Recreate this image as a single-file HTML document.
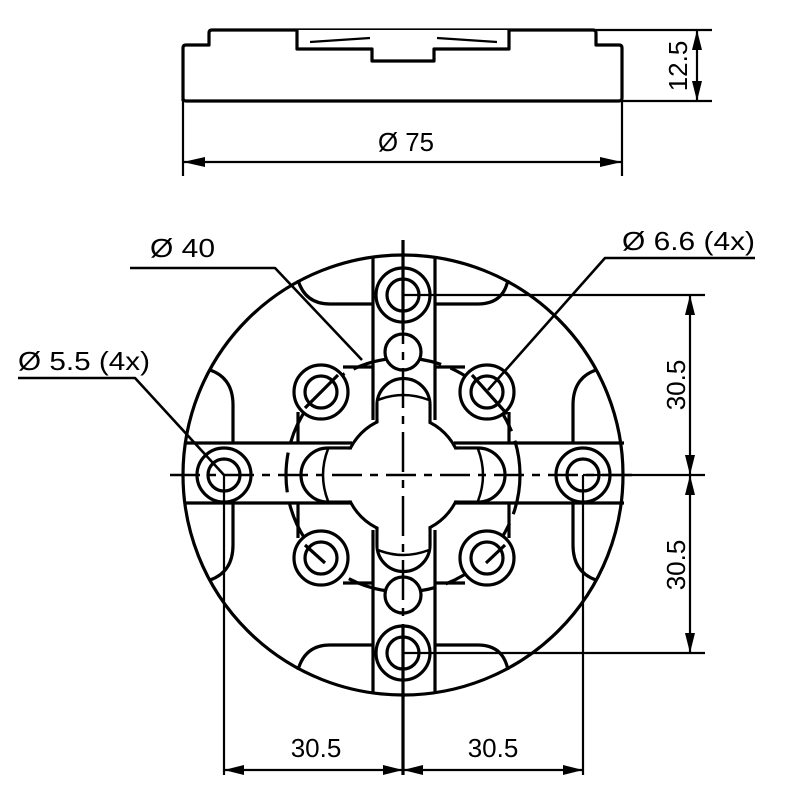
<!DOCTYPE html>
<html><head><style>html,body{margin:0;padding:0;background:#fff}svg{display:block}</style></head>
<body>
<svg width="801" height="800" viewBox="0 0 801 800" xmlns="http://www.w3.org/2000/svg" font-family="Liberation Sans, sans-serif">
<g fill="none" stroke="#000" stroke-width="3.2" stroke-linejoin="round">
<!-- side view -->
<path d="M183,101 L183,48 Q183,45 186,45 L209,45 L209,33 Q209,30 212,30 L593,30 Q596,30 596,33 L596,45 L619,45 Q622,45 622,48 L622,98 Q622,101 619,101 L186,101 Q183,101 183,98"/>
<path d="M297,30 L297,49 L372,49 L372,61 L434,61 L434,49 L509,49 L509,30" fill="#fff"/>
<path d="M310,42 L370,38 M437,38 L497,42" stroke-width="2.2"/>
<!-- 12.5 dim -->
<path d="M596,30 L712,30 M622,101 L712,101 M697,30 L697,101" stroke-width="2.2"/>
<path d="M697,30 L692,50 L702,50Z M697,101 L692,81 L702,81Z" fill="#000" stroke="none"/>
<!-- 75 dim -->
<path d="M183,101 L183,176 M622,101 L622,176 M183,162 L622,162" stroke-width="2.2"/>
<path d="M183,162 L205,157 L205,167Z M622,162 L600,157 L600,167Z" fill="#000" stroke="none"/>

<!-- main circle -->
<circle cx="403" cy="475" r="220"/>
<path d="M373,257 L373,420 M435,257 L435,420 M373,530 L373,693 M435,530 L435,693"/>
<path d="M184,443 L352,443 M454,443 L624,443 M184,503 L352,503 M454,503 L624,503"/>
<path d="M298,280 Q305,304 330,304 L373,304 M435,304 L478,304 Q503,304 508,280"/>
<path d="M298,670 Q305,645 330,645 L373,645 M435,645 L478,645 Q503,645 508,670"/>
<path d="M210,370 Q233,378 233,405 L233,443 M233,503 L233,545 Q233,572 210,580"/>
<path d="M596,370 Q573,378 573,405 L573,443 M573,503 L573,545 Q573,572 596,580"/>
<path d="M343,367 L373,367 M298,412 L298,443 M435,367 L465,367 M509,412 L509,443"/>
<path d="M343,583 L373,583 M298,503 L298,538 M435,583 L465,583 M509,503 L509,538"/>
<circle cx="403" cy="475" r="117" stroke-dasharray="40 10"/>
<g>
<circle cx="403" cy="475" r="59"/>
<path d="M377,422 L377,405 A26,26 0 0 1 430,405 L430,422"/>
<path d="M377,528 L377,545 A26,26 0 0 0 430,545 L430,528"/>
<path d="M352,448 L328,448 A27,27 0 0 0 328,502 L352,502"/>
<path d="M454,448 L478,448 A27,27 0 0 1 478,502 L454,502"/>
</g>
<g fill="#fff" stroke="none">
<circle cx="403" cy="475" r="57.4"/>
<rect x="378.6" y="400" width="49.8" height="150"/>
<rect x="328" y="449.6" width="150" height="50.8"/>
</g>
<path d="M378,400 Q403,390 429,400 M378,550 Q403,560 429,550 M328,449 Q318,475 328,501 M478,449 Q488,475 478,501" stroke-width="2.5"/>
<circle cx="403" cy="295" r="27" fill="#fff"/><circle cx="403" cy="295" r="16"/>
<circle cx="403" cy="653" r="27" fill="#fff"/><circle cx="403" cy="653" r="16"/>
<circle cx="224" cy="475" r="27" fill="#fff"/><circle cx="224" cy="475" r="16"/>
<circle cx="583" cy="475" r="27" fill="#fff"/><circle cx="583" cy="475" r="16"/>
<circle cx="321" cy="392" r="27" fill="#fff"/><circle cx="321" cy="392" r="16"/>
<circle cx="487" cy="392" r="27" fill="#fff"/><circle cx="487" cy="392" r="16"/>
<circle cx="321" cy="558" r="27" fill="#fff"/><circle cx="321" cy="558" r="16"/>
<circle cx="487" cy="558" r="27" fill="#fff"/><circle cx="487" cy="558" r="16"/>
<circle cx="403" cy="352" r="18" fill="#fff"/>
<circle cx="403" cy="595" r="18" fill="#fff"/>
<!-- diagonal stubs in small holes -->
<path d="M305,408 L338,375 M472,375 L507,414 M305,545 L325,563 M486,563 L505,545"/>
<path d="M403,240 L403,775" stroke-dasharray="40 8 8 8" stroke-width="2.5"/>
<path d="M170,475 L640,475" stroke-dasharray="30 8 8 8" stroke-width="2.5"/>
<path d="M403,240 L403,330 M403,625 L403,775"/>
<path d="M130,268 L275,268 L362,360" stroke-width="2.6"/>
<path d="M755,258 L605,258 L488,390" stroke-width="2.6"/>
<path d="M18,378 L135,378 L224,475" stroke-width="2.6"/>
<path d="M403,295 L705,295 M583,475 L705,475 M403,653 L705,653 M690,295 L690,653" stroke-width="2.2"/>
<path d="M690,295 L685,315 L695,315Z M690,475 L685,455 L695,455Z M690,475 L685,495 L695,495Z M690,653 L685,633 L695,633Z" fill="#000" stroke="none"/>
<path d="M224,475 L224,775 M583,475 L583,775 M224,770 L583,770" stroke-width="2.2"/>
<path d="M224,770 L244,765 L244,775Z M403,770 L383,765 L383,775Z M403,770 L423,765 L423,775Z M583,770 L563,765 L563,775Z" fill="#000" stroke="none"/>
</g>
<g font-size="26" fill="#000">
<text x="378" y="151" textLength="56" lengthAdjust="spacingAndGlyphs">Ø 75</text>
<text transform="translate(687,66) rotate(-90)" text-anchor="middle">12.5</text>
<text x="150" y="257" textLength="65" lengthAdjust="spacingAndGlyphs">Ø 40</text>
<text x="622" y="250" textLength="133" lengthAdjust="spacingAndGlyphs">Ø 6.6 (4x)</text>
<text x="18" y="370" textLength="132" lengthAdjust="spacingAndGlyphs">Ø 5.5 (4x)</text>
<text transform="translate(685,385) rotate(-90)" text-anchor="middle">30.5</text>
<text transform="translate(685,565) rotate(-90)" text-anchor="middle">30.5</text>
<text x="316" y="757" text-anchor="middle">30.5</text>
<text x="493" y="757" text-anchor="middle">30.5</text>
</g>
</svg>
</body></html>
